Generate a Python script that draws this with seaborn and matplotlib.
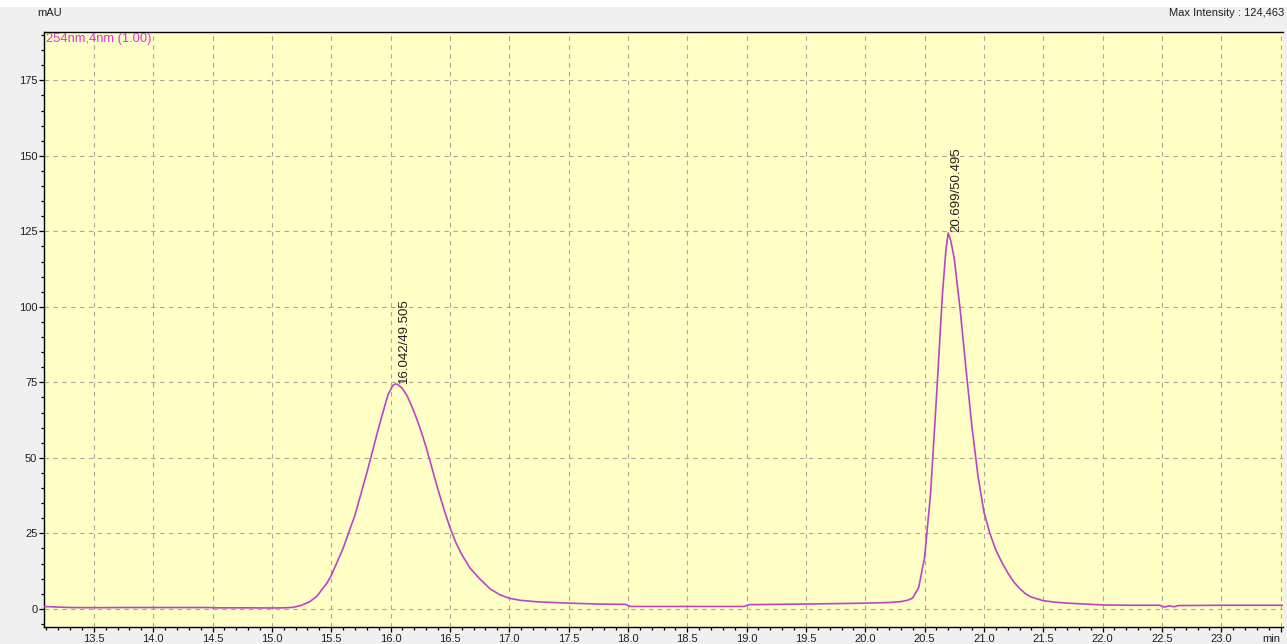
import matplotlib
matplotlib.use("Agg")
import matplotlib.pyplot as plt
from matplotlib.patches import Rectangle
from matplotlib.ticker import MultipleLocator, FixedLocator, FixedFormatter
import pandas as pd
import seaborn as sns

# Chromatogram trace, detector channel 254 nm
time_min = [
    13.08, 13.2, 13.3, 13.5, 13.75, 14.0, 14.25, 14.48, 14.5, 14.75, 15.0, 15.1,
    15.18, 15.25, 15.32, 15.38, 15.42, 15.46, 15.5, 15.55, 15.6, 15.65, 15.7,
    15.75, 15.8, 15.85, 15.9, 15.95, 15.98, 16.02, 16.042, 16.06, 16.1, 16.14,
    16.18, 16.22, 16.26, 16.3, 16.35, 16.4, 16.45, 16.5, 16.55, 16.6, 16.67,
    16.75, 16.84, 16.92, 17.0, 17.1, 17.25, 17.5, 17.75, 17.98, 18.02, 18.5,
    18.98, 19.02, 19.5, 20.0, 20.2, 20.3, 20.36, 20.4, 20.45, 20.5, 20.55, 20.6,
    20.65, 20.68, 20.699, 20.72, 20.75, 20.8, 20.85, 20.9, 20.95, 21.0, 21.05,
    21.1, 21.15, 21.2, 21.25, 21.3, 21.35, 21.4, 21.5, 21.6, 21.75, 21.9, 22.0,
    22.25, 22.48, 22.52, 22.56, 22.6, 22.64, 23.0, 23.52,
]
signal_mau = [
    0.8, 0.6, 0.45, 0.4, 0.45, 0.45, 0.45, 0.45, 0.35, 0.35, 0.3, 0.35,
    0.5, 1.2, 2.4, 4.2, 6.3, 8.3, 11.0, 15.5, 20.0, 25.5, 31.0,
    38.0, 45.0, 52.5, 60.0, 67.0, 71.0, 74.0, 74.5, 74.3, 73.0, 70.5,
    67.0, 63.0, 58.5, 53.5, 46.5, 39.5, 33.0, 27.0, 22.0, 18.0, 13.5,
    10.0, 6.6, 4.7, 3.5, 2.8, 2.3, 1.9, 1.6, 1.5, 0.8, 0.8,
    0.8, 1.4, 1.6, 1.9, 2.1, 2.4, 2.9, 3.6, 7.0, 17.0, 38.0, 70.0,
    104.0, 119.0, 124.463, 122.0, 116.0, 99.0, 79.0, 60.0, 44.0, 32.0, 25.0,
    19.5, 15.5, 12.0, 9.0, 6.8, 5.0, 3.9, 2.7, 2.2, 1.8, 1.5, 1.3,
    1.2, 1.2, 0.6, 1.0, 0.7, 1.1, 1.2, 1.2,
]

# Integrated peaks: retention time / area %
peak_times = [16.042, 20.699]
peak_heights = [74.5, 124.463]
peak_labels = ["16.042/49.505", "20.699/50.495"]

x_major = [13.5, 14.0, 14.5, 15.0, 15.5, 16.0, 16.5, 17.0, 17.5, 18.0, 18.5,
           19.0, 19.5, 20.0, 20.5, 21.0, 21.5, 22.0, 22.5, 23.0, 23.5]
x_labels = ["13.5", "14.0", "14.5", "15.0", "15.5", "16.0", "16.5", "17.0",
            "17.5", "18.0", "18.5", "19.0", "19.5", "20.0", "20.5", "21.0",
            "21.5", "22.0", "22.5", "23.0", "min"]
y_major = [0, 25, 50, 75, 100, 125, 150, 175]

df = pd.DataFrame({"time": time_min, "signal": signal_mau})

sns.set_theme(style="ticks")
plt.rcParams["font.family"] = ["Liberation Sans", "DejaVu Sans"]

W, H = 1287, 644
fig = plt.figure(figsize=(W / 100, H / 100), dpi=100, facecolor="#f0f0f0")
fig.patches.append(Rectangle((0, 1 - 7 / H), 1, 7 / H, transform=fig.transFigure,
                             facecolor="white", edgecolor="none", zorder=0))
ax = fig.add_axes([44 / W, (H - 627) / H, (1283 - 44) / W, (627 - 32) / H])
ax.set_facecolor("#ffffc6")

sns.lineplot(data=df, x="time", y="signal", ax=ax, color="#bc44c4",
             linewidth=1.2, estimator=None, sort=False, zorder=3)

ax.set_xlim(13.08, 23.52)
ax.set_ylim(-6, 191)

ax.xaxis.set_major_locator(FixedLocator(x_major))
ax.xaxis.set_major_formatter(FixedFormatter(x_labels))
ax.xaxis.set_minor_locator(MultipleLocator(0.1))
ax.yaxis.set_major_locator(FixedLocator(y_major))
ax.yaxis.set_minor_locator(MultipleLocator(5))

ax.tick_params(axis="both", which="major", direction="out", length=3.8, width=0.9,
               color="black", labelsize=8, labelcolor="#202020", pad=1.0)
ax.tick_params(axis="both", which="minor", direction="out", length=2.2, width=0.9,
               color="black")

# the final major tick carries the time unit, right-aligned at the axis end
xlabels = ax.get_xticklabels()
xlabels[-1].set_horizontalalignment("right")

ax.grid(True, which="major", color="#aaa89c", linestyle=(0, (4, 4)), linewidth=0.8)
ax.set_axisbelow(True)
ax.set_xlabel("")
ax.set_ylabel("")

for side in ["left", "bottom", "top"]:
    ax.spines[side].set_color("black")
    ax.spines[side].set_linewidth(1.0)
ax.spines["right"].set_visible(False)

for t, h, lab in zip(peak_times, peak_heights, peak_labels):
    ax.annotate(lab, xy=(t, h), xytext=(1.5, 0.5), textcoords="offset points",
                rotation=90, ha="left", va="bottom", fontsize=9.5,
                color="#202020", zorder=4)

ax.text(0.002, 0.999, "254nm,4nm (1.00)", transform=ax.transAxes, ha="left",
        va="top", fontsize=9.3, color="#e030e0", zorder=5)
fig.text(37 / W, 1 - 13 / H, "mAU", ha="left", va="center", fontsize=8,
         color="#202020")
fig.text(1284 / W, 1 - 13 / H, "Max Intensity : 124,463", ha="right",
         va="center", fontsize=8, color="#202020")

fig.savefig("out.png", dpi=100, facecolor=fig.get_facecolor())
